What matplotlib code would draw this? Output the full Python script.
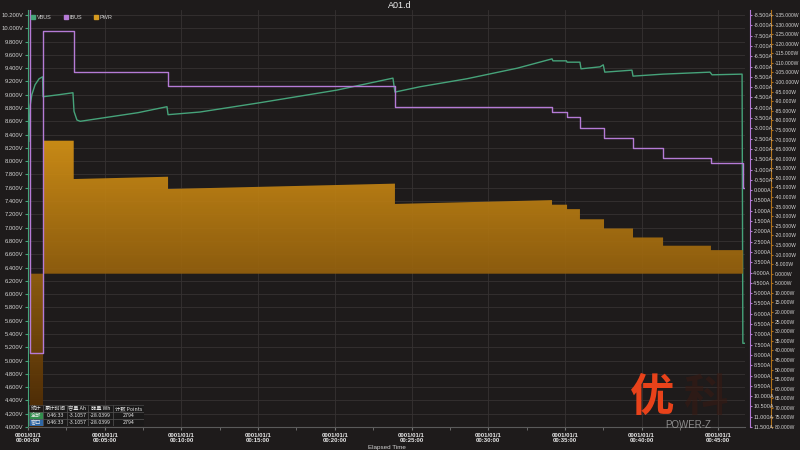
import numpy as np
import matplotlib
matplotlib.use("Agg")
import matplotlib.pyplot as plt
from matplotlib.patches import Rectangle
from matplotlib.lines import Line2D

plt.rcParams['font.family'] = ['Liberation Sans', 'Noto Sans CJK SC', 'DejaVu Sans']

# VBUS (V) vs elapsed minutes
vbus_t = [0.05, 0.13, 0.25, 0.46, 0.72, 0.95, 0.98, 2.00, 2.93, 3.00, 3.19, 3.40,
          7.17, 9.06, 9.13, 11.21, 15.12, 20.14, 23.79, 23.92, 25.55, 28.60, 31.90,
          34.16, 34.22, 35.10, 35.14, 35.98, 36.05, 37.29, 37.50, 37.60, 39.37, 39.44,
          41.39, 44.46, 44.59, 46.55, 46.60, 47.00]
vbus_v = [8.30, 8.82, 9.00, 9.15, 9.24, 9.27, 8.97, 9.00, 9.03, 8.75, 8.62, 8.60,
          8.73, 8.82, 8.70, 8.74, 8.88, 9.07, 9.25, 9.04, 9.12, 9.24, 9.40,
          9.54, 9.51, 9.51, 9.49, 9.49, 9.39, 9.42, 9.45, 9.34, 9.37, 9.28,
          9.31, 9.34, 9.30, 9.31, 5.26, 5.26]

# IBUS (A), stepped
ibus_t = [0.00, 0.13, 0.98, 2.98, 9.13, 23.92, 34.16, 35.14, 35.98, 37.55, 39.44,
          41.40, 44.52, 46.60, 47.00]
ibus_a = [-9.50, 7.91, -7.72, -5.73, -5.05, -4.03, -3.79, -3.55, -3.01, -2.53, -2.04,
          -1.56, -1.32, -0.10, -0.10]

# PWR (W) segments: start/end time and value at start/end
pwr_t0 = [0.13, 0.98, 2.98, 9.13, 23.92, 34.16, 35.14, 35.98, 37.55, 39.44, 41.40, 44.52]
pwr_t1 = [0.98, 2.98, 9.13, 23.92, 34.16, 35.14, 35.98, 37.55, 39.44, 41.40, 44.52, 46.60]
pwr_w0 = [95.0, -69.4, -49.4, -44.2, -36.4, -36.0, -33.7, -28.4, -23.6, -18.9, -14.6, -12.3]
pwr_w1 = [95.0, -69.4, -50.6, -47.0, -38.4, -36.0, -33.7, -28.4, -23.6, -18.9, -14.6, -12.3]

x_ticks = list(range(0, 46, 5))
x_labels = ["0001/01/1\n00:%02d:00" % m for m in x_ticks]
v_ticks = [round(4.0 + 0.2 * k, 1) for k in range(32)]
i_ticks = [-8.5 + 0.5 * k for k in range(41)]
p_ticks = [-135 + 5 * k for k in range(44)]

stats_header = ['统计', '累计时间', '容量 Ah', '能量 Wh', '计数 Points']
stats_rows = [['全部', '0:46:33', '-3.1057', '-28.0399', '2794'],
              ['窗口', '0:46:33', '-3.1057', '-28.0399', '2794']]

BG = '#1e1b1b'
GREEN = '#46a37a'
PURPLE = '#b57bd6'
ORANGE = '#b0721c'
TXT = '#d2d2d2'

fig = plt.figure(figsize=(8, 4.5), dpi=100, facecolor=BG)
ax = fig.add_axes([28 / 800, 23 / 450, 717 / 800, 417 / 450], facecolor=BG)
ax_p = ax.twinx()
ax_i = ax.twinx()

# voltage axis + grid
ax.set_xlim(0, 46.74)
ax.set_ylim(4.0, 10.2752)
ax.set_xticks(x_ticks)
ax.set_xticklabels(x_labels, fontweight='bold')
ax.set_xticks([2.5 + 5 * k for k in range(9)], minor=True)
ax.set_yticks(v_ticks)
ax.set_yticklabels(["%.3fV" % v for v in v_ticks])
ax.grid(True, which='major', color='#363232', lw=0.6)
ax.tick_params(axis='x', which='both', length=2, color='#777777', pad=2,
               labelsize=4.3, labelcolor='#e6e6e6')
ax.tick_params(axis='y', length=2, color=GREEN, pad=1.5, labelsize=4.2, labelcolor=TXT)
ax.set_xlabel('Elapsed Time', fontsize=4.5, color=TXT, labelpad=1)
for s in ['top', 'right']:
    ax.spines[s].set_visible(False)
ax.spines['left'].set_color(GREEN)
ax.spines['bottom'].set_color('#5a5a5a')
ax.plot(vbus_t, vbus_v, color=GREEN, lw=1.0)

# power fill with vertical gradient
pt, pw = [], []
for t0, t1, w0, w1 in zip(pwr_t0, pwr_t1, pwr_w0, pwr_w1):
    pt += [t0, t1]
    pw += [w0, w1]
p_top, p_bot = -137.61, 80.0
ax_p.set_ylim(p_bot, p_top)
poly = ax_p.fill_between(pt, 0, pw, facecolor='none', edgecolor='none')
rows = np.linspace(p_top, p_bot, 300)
ypx = 10 + (rows - p_top) / 0.52184
c140 = np.array([214, 147, 22])
c270 = np.array([150, 98, 14])
cols = c140 + (ypx[:, None] - 140) / 130 * (c270 - c140)
grad = np.clip(cols, 0, 255)[:, None, :] / 255
img = ax_p.imshow(grad, extent=(0, 46.74, p_bot, p_top), origin='upper',
                  aspect='auto', alpha=0.93, interpolation='bilinear')
img.set_clip_path(poly.get_paths()[0], transform=ax_p.transData)
ax_p.set_xlim(0, 46.74)
ax_p.set_ylim(p_bot, p_top)
ax_p.set_yticks(p_ticks)
ax_p.set_yticklabels(["%.3fW" % v for v in p_ticks])
ax_p.spines['right'].set_position(('outward', 19))   # points
ax_p.spines['right'].set_color(ORANGE)
ax_p.tick_params(axis='y', length=1.5, color=ORANGE, pad=0.8, labelsize=3.6, labelcolor=TXT)

# current
ax_i.plot(ibus_t, ibus_a, color=PURPLE, lw=1.0, drawstyle='steps-post')
ax_i.set_xlim(0, 46.74)
ax_i.set_ylim(11.5, -8.743)
ax_i.set_yticks(i_ticks)
ax_i.set_yticklabels(["%.3fA" % v for v in i_ticks])
ax_i.spines['right'].set_position(('outward', 3.5))
ax_i.spines['right'].set_color(PURPLE)
ax_i.tick_params(axis='y', length=1.5, color=PURPLE, pad=1.0, labelsize=3.9, labelcolor=TXT)

for a in (ax_p, ax_i):
    for s in ['top', 'left', 'bottom']:
        a.spines[s].set_visible(False)

handles = [Line2D([], [], ls='none', marker='s', ms=2.5, color=c) for c in (GREEN, PURPLE, '#d49a20')]
leg = ax_i.legend(handles, ['VBUS', 'IBUS', 'PWR'], loc='upper left', bbox_to_anchor=(0.0, 0.995),
                  ncol=3, frameon=False, fontsize=4, handlelength=0.6, handletextpad=0.4,
                  columnspacing=2.2, borderaxespad=0.2)
for tx in leg.get_texts():
    tx.set_color(TXT)

fig.text(0.5, 1 - 6 / 450, 'A01.d', ha='center', va='center', fontsize=6.5, color='#eeeeee')

# statistics table
tab = fig.add_axes([29 / 800, 24 / 450, 115 / 800, 21 / 450])
tab.set_xlim(29, 144)
tab.set_ylim(426, 405)
tab.axis('off')
col_x = [29, 43, 67, 88, 113, 144]
row_y = [405, 412, 419, 426]
for r, row in enumerate([stats_header] + stats_rows):
    for c, cell in enumerate(row):
        fc = '#1a1919'
        if c == 0 and r == 1:
            fc = '#2f9a55'
        elif c == 0 and r == 2:
            fc = '#2d6fb8'
        tab.add_patch(Rectangle((col_x[c], row_y[r]), col_x[c + 1] - col_x[c], row_y[r + 1] - row_y[r],
                                facecolor=fc, edgecolor='#5a5a5a', lw=0.4, alpha=0.9))
        tab.text((col_x[c] + col_x[c + 1]) / 2, (row_y[r] + row_y[r + 1]) / 2 + 0.3, cell,
                 ha='center', va='center', fontsize=3.8, color='#e6e6e6',
                 family=['Noto Sans CJK SC', 'DejaVu Sans'])

# watermark
fig.text(652 / 800, 1 - 398 / 450, '优', ha='center', va='center', fontsize=32,
         color='#e8421a', fontweight='bold', family=['Noto Sans CJK SC'])
fig.text(705 / 800, 1 - 398 / 450, '科', ha='center', va='center', fontsize=32,
         color='#3a1a12', alpha=0.55, fontweight='bold', family=['Noto Sans CJK SC'])
fig.text(688 / 800, 1 - 425 / 450, 'POWER-Z', ha='center', va='center', fontsize=7,
         color='#a8a8a8', alpha=0.8)

fig.savefig('out.png', dpi=100, facecolor=BG)
